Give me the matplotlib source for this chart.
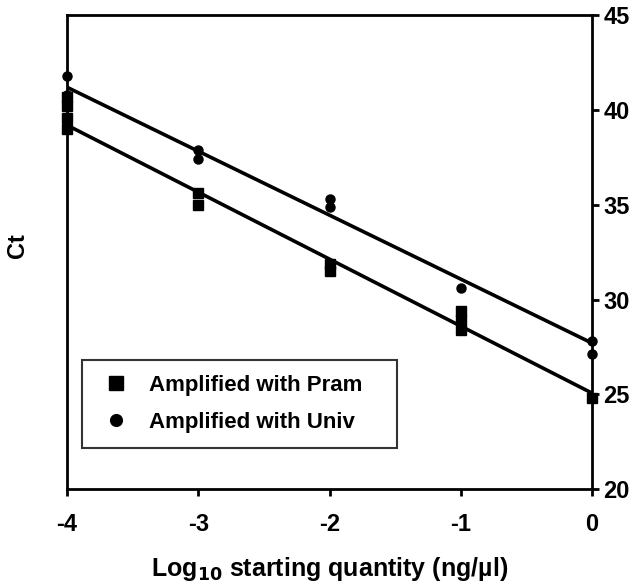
import numpy as np
import matplotlib.pyplot as plt

plt.rcParams['font.family'] = ['Liberation Sans', 'DejaVu Sans']
plt.rcParams['font.weight'] = 'bold'

# log10 starting quantity vs Ct
pram_x = [-4, -4, -4, -4, -3, -3, -2, -2, -1, -1, -1, 0]
pram_ct = [39.0, 39.6, 40.2, 40.7, 35.0, 35.6, 31.5, 31.9, 28.4, 28.9, 29.4, 24.8]
univ_x = [-4, -4, -4, -3, -3, -2, -2, -1, 0, 0]
univ_ct = [41.8, 40.8, 40.3, 37.4, 37.9, 34.9, 35.3, 30.6, 27.8, 27.1]

# regression lines (slope, intercept)
pram_fit = (-3.535, 25.06)
univ_fit = (-3.375, 27.7)

fig = plt.figure(figsize=(6.38, 5.85), dpi=100)
ax = fig.add_axes([0.105, 0.164, 0.823, 0.81])

xl = np.array([-4, 0])
ax.plot(xl, pram_fit[0] * xl + pram_fit[1], color='black', lw=2.6, zorder=2)
ax.plot(xl, univ_fit[0] * xl + univ_fit[1], color='black', lw=2.6, zorder=2)
ax.plot(pram_x, pram_ct, 's', color='black', ms=7.5, ls='none',
        label='Amplified with Pram', zorder=3, clip_on=False)
ax.plot(univ_x, univ_ct, 'o', color='black', ms=6.5, ls='none',
        label='Amplified with Univ', zorder=3, clip_on=False)

ax.set_xlim(-4, 0)
ax.set_ylim(20, 45)
ax.set_xticks([-4, -3, -2, -1, 0])
ax.set_xticklabels(['-4', '-3', '-2', '-1', '0'])
ax.set_yticks([20, 25, 30, 35, 40, 45])
ax.yaxis.tick_right()
ax.tick_params(axis='both', direction='out', length=5, width=2, labelsize=17)
ax.tick_params(axis='y', pad=3)
ax.tick_params(axis='x', pad=12)
for s in ax.spines.values():
    s.set_linewidth(2)

ax.set_xlabel('Log$_{\\mathbf{10}}$ starting quantity (ng/\u00b5l)', fontsize=18,
              fontweight='bold', labelpad=14)
fig.text(0.028, 0.58, 'Ct', rotation=90, fontsize=17, fontweight='bold',
         ha='center', va='center')

leg = ax.legend(loc='lower left', bbox_to_anchor=(0.029, 0.086, 0.60, 0.19),
                mode='expand', fontsize=16,
                frameon=True, fancybox=False, edgecolor='black',
                handlelength=1.6, handletextpad=0.7, borderpad=0.7,
                labelspacing=0.7, borderaxespad=0, markerscale=1.3)
leg.get_frame().set_linewidth(1.5)

fig.savefig('out.png', dpi=100)
